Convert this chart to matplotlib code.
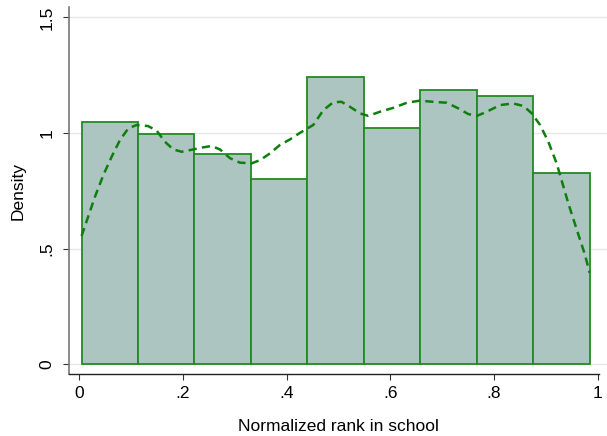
import numpy as np
import matplotlib.pyplot as plt

# histogram (density) of normalized rank, 9 bins
bin_lo = 0.0046
bin_hi = 0.9846
density = [1.049, 0.994, 0.911, 0.801, 1.243, 1.020, 1.186, 1.160, 0.827]

# kernel density estimate
kde_x = [0.0046, 0.0305, 0.0465, 0.0627, 0.0787, 0.0947, 0.111, 0.133, 0.1495,
         0.1655, 0.1815, 0.1977, 0.220, 0.239, 0.2556, 0.2716, 0.291, 0.310,
         0.3328, 0.349, 0.368, 0.387, 0.407, 0.426, 0.4516, 0.471, 0.490,
         0.506, 0.522, 0.5417, 0.5577, 0.580, 0.606, 0.632, 0.657, 0.683,
         0.709, 0.731, 0.7506, 0.767, 0.786, 0.812, 0.837, 0.857, 0.873,
         0.889, 0.905, 0.921, 0.937, 0.9435, 0.960, 0.9757, 0.9846]
kde_y = [0.555, 0.725, 0.818, 0.898, 0.970, 1.020, 1.035, 1.030, 1.010,
         0.962, 0.929, 0.919, 0.929, 0.938, 0.944, 0.929, 0.891, 0.872,
         0.869, 0.883, 0.912, 0.948, 0.973, 1.001, 1.035, 1.099, 1.133,
         1.135, 1.114, 1.085, 1.074, 1.092, 1.109, 1.131, 1.140, 1.135,
         1.131, 1.107, 1.082, 1.074, 1.092, 1.121, 1.128, 1.117, 1.085,
         1.035, 0.962, 0.869, 0.746, 0.696, 0.581, 0.473, 0.396]

x_ticks = [0, 0.2, 0.4, 0.6, 0.8, 1]
x_labels = ["0", ".2", ".4", ".6", ".8", "1"]
y_ticks = [0, 0.5, 1, 1.5]
y_labels = ["0", ".5", "1", "1.5"]

plt.rcParams['font.family'] = ['Liberation Sans', 'DejaVu Sans']

W, H = 607, 436
fig = plt.figure(figsize=(W / 100, H / 100), dpi=100)
ax = fig.add_axes([69 / W, (H - 374) / H, (607 - 69) / W, (374 - 7) / H])

# pixel -> data mapping
px0, px_per = 79.2, 518.4
ax.set_xlim((69 - px0) / px_per, (607 - px0) / px_per)
ax.set_ylim(-0.042, 1.545)

for yv in y_ticks:
    ax.axhline(yv, color='#e6e6e6', lw=1.0, zorder=0)

edges = np.linspace(bin_lo, bin_hi, len(density) + 1)
ax.bar(edges[:-1], density, width=np.diff(edges), align='edge',
       color='#adc5c0', edgecolor='#1f8c1f', linewidth=1.3, zorder=2)

ax.plot(kde_x, kde_y, color='#0d7f0d', lw=1.8, dashes=(3.3, 2.1),
        zorder=3, dash_capstyle='butt')

ax.set_xticks(x_ticks)
ax.set_xticklabels(x_labels)
ax.set_yticks(y_ticks)
ax.set_yticklabels(y_labels, rotation=90, va='center')

ax.tick_params(axis='both', labelsize=12.5, length=4.5, width=0.8, color='#333333')
ax.tick_params(axis='x', pad=4)
ax.tick_params(axis='y', pad=6)

for side in ['top', 'right']:
    ax.spines[side].set_visible(False)
ax.spines['left'].set_color('#777777')
ax.spines['left'].set_linewidth(1.2)
ax.spines['bottom'].set_color('#222222')
ax.spines['bottom'].set_linewidth(1.0)
ax.spines['bottom'].set_bounds((69 - px0) / px_per, (599 - px0) / px_per)

ax.set_xlabel('Normalized rank in school', fontsize=12.5, labelpad=13)
ax.set_ylabel('Density', fontsize=12.5, labelpad=10)

fig.savefig('out.png', dpi=100)
